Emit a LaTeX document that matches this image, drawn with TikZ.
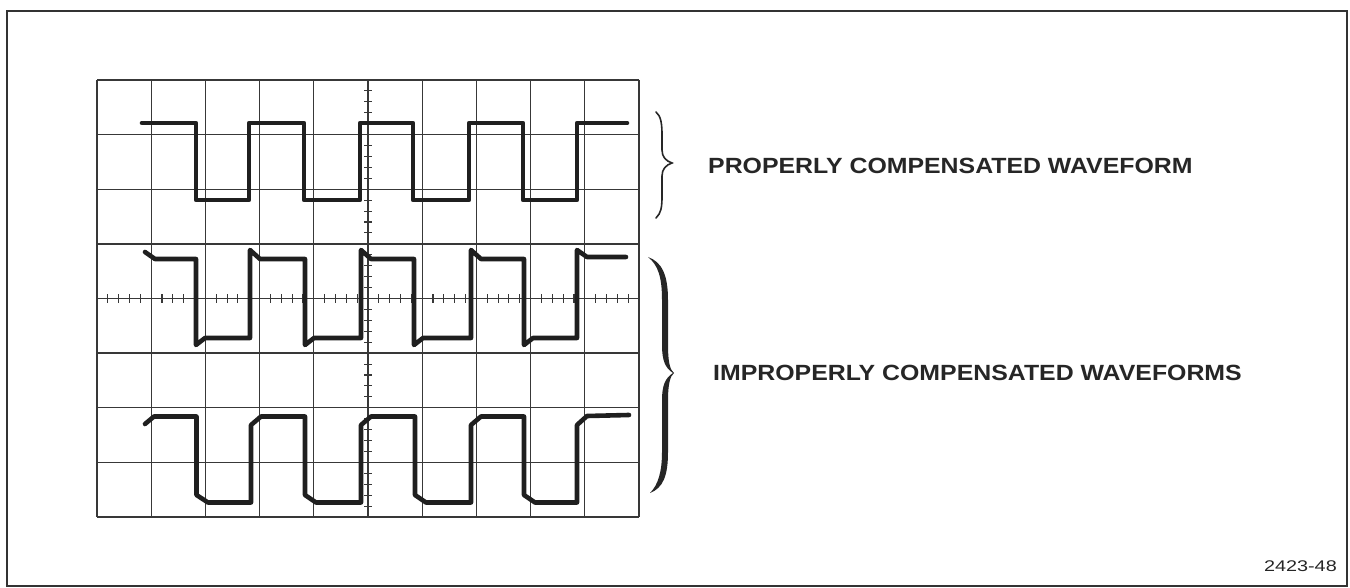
\documentclass[tikz,border=0pt]{standalone}
\usepackage{fontspec}
\setmainfont{Liberation Sans}
\usepackage{graphicx}
\begin{document}
\begin{tikzpicture}[x=1pt,y=-1pt,
  gridline/.style={draw=black!78,line width=1.3pt},
  tickline/.style={draw=black!78,line width=1.1pt},
  wave/.style={draw=black!88,line width=4.6pt,line join=round,line cap=round},
  frameline/.style={draw=black!80,line width=2pt},
  label/.style={inner sep=0pt,font=\fontsize{22}{26}\selectfont\bfseries,text=black!85},
  figno/.style={inner sep=0pt,font=\fontsize{15.5}{18}\selectfont,text=black!85}]
\useasboundingbox (0,0) rectangle (1350,588);
% outer frame
\draw[frameline] (7,11) rectangle (1347,586);
% graticule
\foreach \i in {0,...,10} {\draw[gridline] ({97+\i*54.2},80) -- ({97+\i*54.2},517);}
\foreach \j in {0,...,8} {\draw[gridline] (97,{80+\j*54.625}) -- (639,{80+\j*54.625});}
% centre-line ticks
\foreach \i in {1,...,39} {\draw[tickline] (364,{80+\i*10.925}) -- (372,{80+\i*10.925});}
\foreach \i in {1,...,49} {\draw[tickline] ({97+\i*10.84},294.5) -- ({97+\i*10.84},302.5);}
% properly compensated waveform
\draw[wave] (142,123) -- (196,123) -- (196,200) -- (249,200) -- (249,123)
  -- (304,123) -- (304,200) -- (360,200) -- (360,123)
  -- (413,123) -- (413,200) -- (469,200) -- (469,123)
  -- (523,123) -- (523,200) -- (577,200) -- (577,123) -- (627,123);
% over-compensated waveform
\draw[wave] (145,252) -- (155,259) -- (196,259) -- (196,345) -- (205,338)
  -- (250,338) -- (250,250) -- (260,259) -- (305,259) -- (305,345) -- (314,338)
  -- (361,338) -- (361,250) -- (371,259) -- (414,259) -- (414,345) -- (423,338)
  -- (471,338) -- (471,250) -- (481,259) -- (524,259) -- (524,345) -- (533,338)
  -- (577,338) -- (577,250) -- (587,257) -- (626,257);
% under-compensated waveform
\draw[wave] (145,424) -- (154,416.5) -- (196.5,416.5) -- (196.5,495) -- (208,502.5)
  -- (251,502.5) -- (251,425) -- (261,416.5) -- (305,416.5) -- (305,495) -- (316,502.5)
  -- (361,502.5) -- (361,425) -- (371,416.5) -- (415,416.5) -- (415,495) -- (426,502.5)
  -- (471,502.5) -- (471,425) -- (481,416.5) -- (524,416.5) -- (524,495) -- (535,502.5)
  -- (577,502.5) -- (577,425) -- (587,416) -- (629,415);
% thin brace
\draw[draw=black!85,line width=1.6pt,line cap=round]
  (656,112) .. controls (661,116) and (662,124) .. (662,135) -- (662,150)
  .. controls (662,157) and (666,161) .. (672,163)
  .. controls (666,165) and (662,169) .. (662,176) -- (662,196)
  .. controls (662,208) and (661,213) .. (656,218);
% thick brace
\fill[black!85]
  (648,257) .. controls (662,262) and (668,275) .. (668,300) -- (668,345)
  .. controls (668,362) and (670,370) .. (674,373)
  .. controls (670,376) and (668,385) .. (668,400) -- (668,452)
  .. controls (668,476) and (663,488) .. (650,493)
  .. controls (658,485) and (662,472) .. (662,452) -- (662,400)
  .. controls (662,386) and (665,378) .. (673,373)
  .. controls (665,368) and (662,360) .. (662,345) -- (662,300)
  .. controls (662,277) and (658,265) .. (648,257) -- cycle;
% labels
\node[label,anchor=west] (proper) at (708,165.5) {\scalebox{1.13}[1]{PROPERLY COMPENSATED WAVEFORM}};
\node[label,anchor=west] (improper) at (713,372.5) {\scalebox{1.13}[1]{IMPROPERLY COMPENSATED WAVEFORMS}};
\node[figno,anchor=east] (fig) at (1337,566) {\scalebox{1.28}[1]{2423-48}};
\end{tikzpicture}
\end{document}
